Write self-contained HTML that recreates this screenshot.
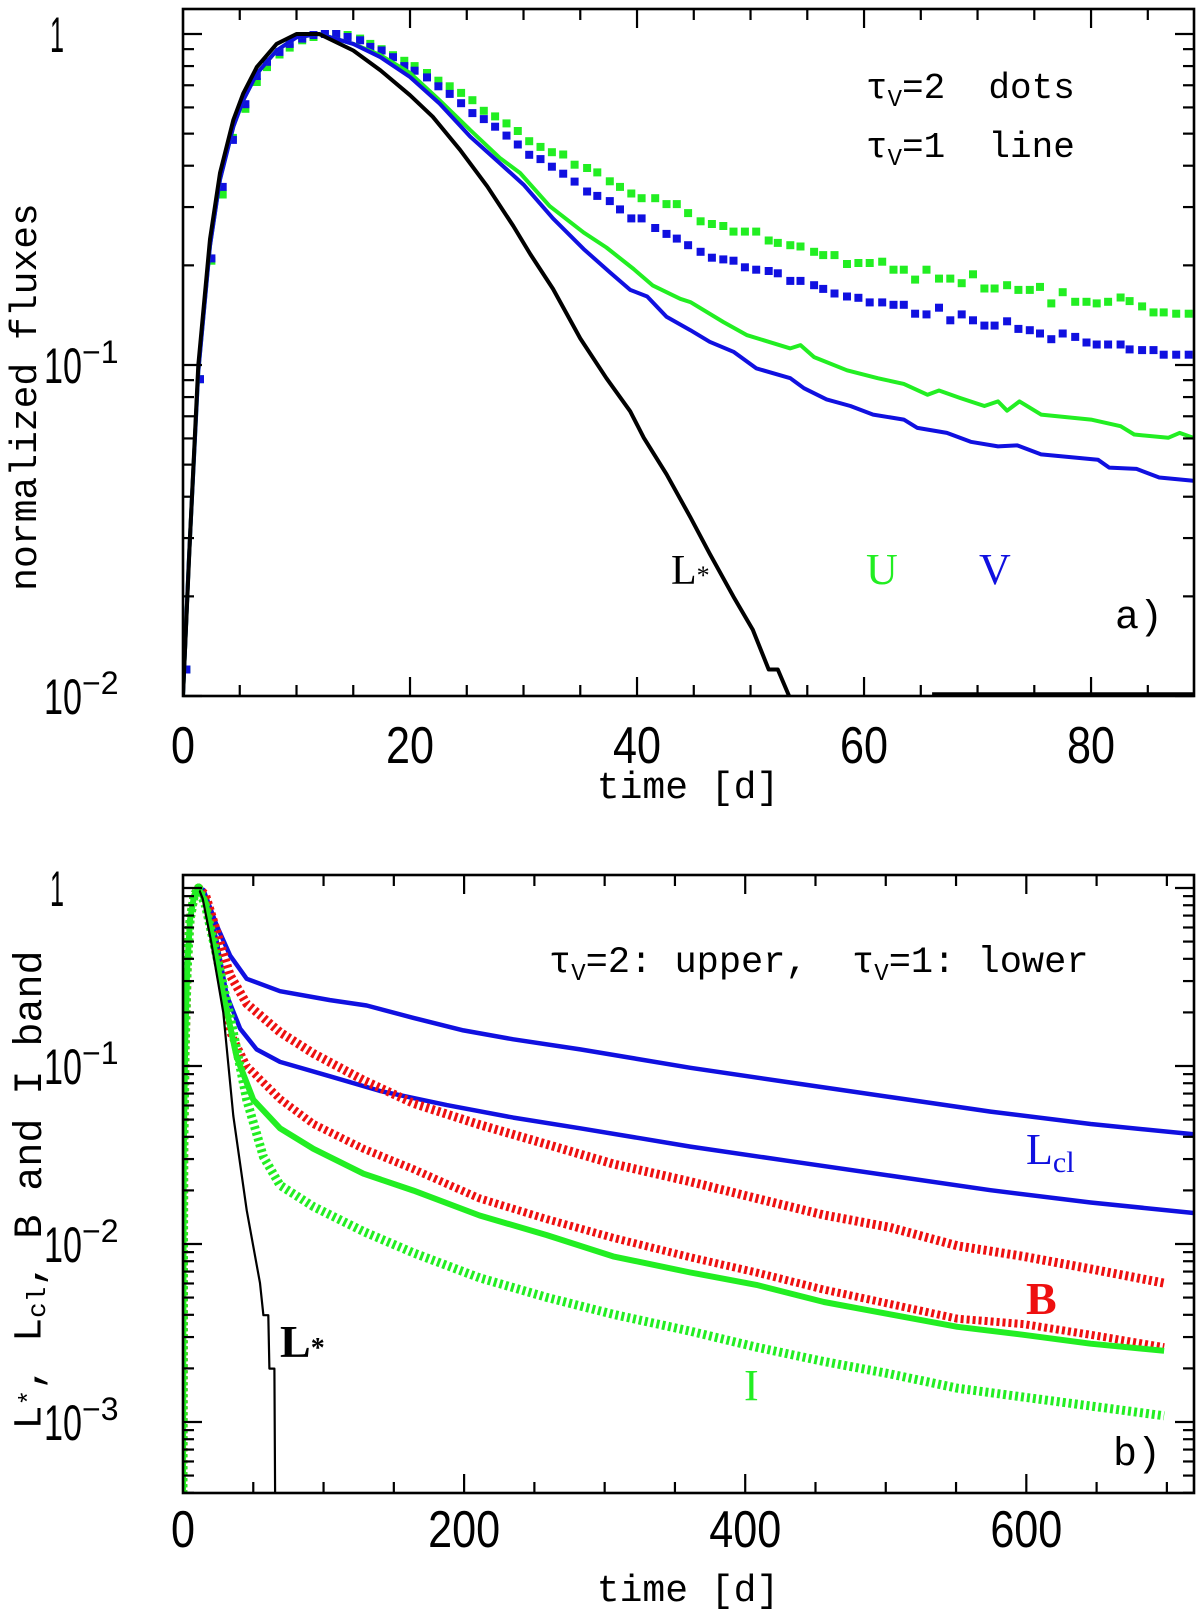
<!DOCTYPE html>
<html><head><meta charset="utf-8"><style>
html,body{margin:0;padding:0;background:#fff}
svg{display:block}
text{font-family:"Liberation Sans",sans-serif;fill:#000;white-space:pre}
.mono{font-family:"Liberation Mono",monospace}
.serif{font-family:"Liberation Serif",serif}
</style></head><body>
<svg id="fig" width="1200" height="1619" viewBox="0 0 1200 1619" xmlns="http://www.w3.org/2000/svg">
<defs>
<clipPath id="clipA"><rect x="183" y="9" width="1011" height="687"/></clipPath>
<clipPath id="clipB"><rect x="183" y="875" width="1011" height="618"/></clipPath>
</defs>
<g id="panelA"></g>
<g id="panelB"></g>

<!-- Panel a texts -->
<text class="mono" x="26" y="397" font-size="38" transform="rotate(-90 26 397)" text-anchor="middle" dominant-baseline="middle">normalized fluxes</text>
<text class="mono" x="688" y="798" font-size="38" text-anchor="middle">time [d]</text>
<text class="mono" x="866" y="98" font-size="36" xml:space="preserve">τ<tspan font-size="24" dy="8">V</tspan><tspan dy="-8">=2  dots</tspan></text>
<text class="mono" x="866" y="157" font-size="36" xml:space="preserve">τ<tspan font-size="24" dy="8">V</tspan><tspan dy="-8">=1  line</tspan></text>
<text class="serif" x="671" y="584" font-size="42">L<tspan font-size="26">*</tspan></text>
<text class="serif" x="866" y="584" font-size="44" style="fill:#22ee22">U</text>
<text class="serif" x="979" y="584" font-size="44" style="fill:#1010e0">V</text>
<text class="mono" x="1115" y="628" font-size="40">a)</text>

<!-- Panel b texts -->
<text class="mono" x="30" y="1190" font-size="40" transform="rotate(-90 30 1190)" text-anchor="middle" dominant-baseline="middle">L<tspan font-size="26">*</tspan>, L<tspan font-size="26" dy="8">cl</tspan><tspan dy="-8">, B and I band</tspan></text>
<text class="mono" x="688" y="1601" font-size="38" text-anchor="middle">time [d]</text>
<text class="mono" x="549" y="972" font-size="37" xml:space="preserve">τ<tspan font-size="24" dy="8">V</tspan><tspan dy="-8">=2: upper,  τ</tspan><tspan font-size="24" dy="8">V</tspan><tspan dy="-8">=1: lower</tspan></text>
<text class="serif" x="1026" y="1164" font-size="44" style="fill:#1010e0">L<tspan font-size="30" dy="8">cl</tspan></text>
<text class="serif" x="1026" y="1314" font-size="46" font-weight="bold" style="fill:#ee1010">B</text>
<text class="serif" x="744" y="1400" font-size="44" style="fill:#22ee22">I</text>
<text class="serif" x="280" y="1357" font-size="46" font-weight="bold">L<tspan font-size="28">*</tspan></text>
<text class="mono" x="1113" y="1465" font-size="40">b)</text>
</svg>
<script>
// ---------- Panel a data (log10 normalized flux) ----------
const lStarT = [0,0.62,1.35,2.38,3.26,4.43,5.3,6.5,8.25,10,12,15,17.4,20,22,24.4,26.8,29.1,30.6,32.6,35,37.3,39.4,40.6,42.6,44.7,46.4,48.5,50.2,51.6,52.4,53.4];
const lStarLog = [-2,-1.52,-1.0,-0.62,-0.42,-0.26,-0.18,-0.10,-0.03,0,0,-0.05,-0.11,-0.185,-0.25,-0.35,-0.46,-0.58,-0.665,-0.77,-0.92,-1.04,-1.14,-1.22,-1.33,-1.46,-1.57,-1.70,-1.80,-1.92,-1.92,-2.0];
const lStarTailT = [66,89.07];
const lStarTailLog = [-2,-2];
const vLineT = [0,0.5,1.35,2.38,3.26,4.43,5.3,6.5,8.25,10,12,15,17.4,20,22.6,25.3,27.9,30,32.6,35.3,37.6,39.4,40.9,42.6,44.7,46.4,48.5,50.5,53.5,54.7,56.7,58.8,60.8,63.5,64.7,67.3,69.4,71.8,73.5,75.6,80.6,81.6,84,86,89];
const vLineLog = [-2,-1.6,-1.02,-0.64,-0.44,-0.28,-0.2,-0.12,-0.05,-0.01,0,-0.03,-0.07,-0.13,-0.21,-0.31,-0.39,-0.455,-0.557,-0.65,-0.72,-0.773,-0.793,-0.854,-0.895,-0.93,-0.96,-1.01,-1.04,-1.07,-1.104,-1.124,-1.15,-1.165,-1.19,-1.205,-1.232,-1.246,-1.243,-1.27,-1.286,-1.31,-1.314,-1.34,-1.35];
const uLineT = [0,0.5,1.35,2.38,3.26,4.43,5.3,6.5,8.25,10,12,15,17.4,20,22.6,25.3,27.9,29.7,32.3,35.3,37.3,39.7,41.4,43.8,44.7,47.6,49.7,53.5,54.4,55.6,58.5,61.2,63.5,65.6,66.6,68.5,70.6,71.8,72.6,73.7,75.6,80,82.6,83.8,86.8,87.8,89];
const uLineLog = [-2,-1.6,-1.02,-0.64,-0.44,-0.28,-0.2,-0.12,-0.05,-0.01,0,-0.03,-0.064,-0.118,-0.2,-0.29,-0.374,-0.42,-0.52,-0.6,-0.645,-0.71,-0.76,-0.80,-0.81,-0.87,-0.91,-0.95,-0.94,-0.976,-1.016,-1.04,-1.057,-1.09,-1.077,-1.10,-1.124,-1.11,-1.138,-1.11,-1.15,-1.165,-1.185,-1.21,-1.22,-1.205,-1.22];
const dotT = [0.3,1.5,2.5,3.5,4.4,5.5,6.5,7.4,8.5,9.4,10.5,11.5,12.5,13.5,14.5,15.6,16.5,17.5,18.5,19.5,20.4,21.5,22.5,23.5,24.5,25.5,26.5,27.5,28.5,29.5,30.5,31.5,32.5,33.5,34.5,35.6,36.5,37.6,38.5,39.5,40.4,41.6,42.6,43.5,44.5,
 45.6,46.6,47.6,48.5,49.5,50.5,51.6,52.4,53.5,54.4,55.6,56.4,57.4,58.5,59.5,60.5,61.6,62.6,63.5,64.5,65.5,66.6,67.6,68.6,69.6,70.6,71.5,72.6,73.6,74.6,75.5,76.5,77.5,78.6,79.6,80.5,81.5,82.6,83.4,84.5,85.5,86.4,87.5,88.6];
const uDotLog = [-1.92,-1.043,-0.685,-0.485,-0.314,-0.226,-0.145,-0.1,-0.062,-0.041,-0.019,-0.009,0,0,-0.003,-0.014,-0.03,-0.046,-0.064,-0.081,-0.097,-0.118,-0.141,-0.158,-0.178,-0.2,-0.232,-0.249,-0.27,-0.293,-0.324,-0.341,-0.357,-0.364,-0.395,-0.405,-0.418,-0.445,-0.462,-0.482,-0.496,-0.496,-0.514,-0.514,-0.541,
 -0.566,-0.574,-0.58,-0.597,-0.597,-0.597,-0.624,-0.631,-0.638,-0.642,-0.658,-0.668,-0.668,-0.695,-0.692,-0.692,-0.688,-0.712,-0.712,-0.742,-0.712,-0.739,-0.739,-0.753,-0.726,-0.769,-0.769,-0.759,-0.773,-0.773,-0.764,-0.814,-0.78,-0.809,-0.809,-0.814,-0.809,-0.796,-0.807,-0.823,-0.841,-0.841,-0.845,-0.845];
const vDotLog = [-1.92,-1.043,-0.678,-0.462,-0.32,-0.212,-0.127,-0.084,-0.054,-0.03,-0.014,-0.003,0,0,-0.009,-0.019,-0.039,-0.05,-0.07,-0.097,-0.111,-0.131,-0.158,-0.181,-0.209,-0.239,-0.257,-0.28,-0.307,-0.334,-0.365,-0.378,-0.401,-0.422,-0.446,-0.476,-0.489,-0.505,-0.53,-0.557,-0.557,-0.586,-0.604,-0.618,-0.638,
 -0.658,-0.676,-0.681,-0.685,-0.705,-0.712,-0.716,-0.723,-0.746,-0.746,-0.759,-0.77,-0.784,-0.793,-0.797,-0.811,-0.811,-0.818,-0.818,-0.845,-0.847,-0.827,-0.865,-0.847,-0.865,-0.881,-0.881,-0.868,-0.891,-0.895,-0.905,-0.922,-0.905,-0.915,-0.932,-0.938,-0.938,-0.938,-0.953,-0.955,-0.955,-0.969,-0.969,-0.969];
const xTicksA = [0,20,40,60,80];
const yTicksA = [0,-1,-2];

// ---------- Panel b data ----------
const riseT = [0,0.5,1.5,3,5,8,11];
const riseLog = [-3.4,-1.5,-0.9,-0.45,-0.18,-0.04,0];
const bLstarT = [14,20,28.7,35.8,45.3,54.8,57.2,60.7,61.5,65,65.5];
const bLstarLog = [-0.06,-0.3,-0.70,-1.28,-1.81,-2.22,-2.40,-2.40,-2.70,-2.70,-3.4];
const lclUpT = [14.5,24,33.5,45.3,69,104.6,130.7,164,199.5,235,282.6,361,432,503,574.5,645.7,719];
const lclUpLog = [-0.01,-0.21,-0.38,-0.51,-0.58,-0.63,-0.66,-0.73,-0.80,-0.85,-0.907,-1.01,-1.093,-1.174,-1.256,-1.326,-1.384];
const lclLowT = [16,24,31,40.6,52.4,69,104.6,140,187.7,235,282.6,361,432,503,574.5,645.7,719];
const lclLowLog = [-0.05,-0.30,-0.60,-0.79,-0.907,-0.977,-1.058,-1.14,-1.22,-1.29,-1.35,-1.453,-1.535,-1.616,-1.698,-1.767,-1.826];
const bUpT = [16,21.6,33.5,45.3,69,92.8,128.4,164,211,258.8,306,361,408,456,503,551,598,645.7,698];
const bUpLog = [-0.04,-0.186,-0.49,-0.65,-0.81,-0.93,-1.08,-1.21,-1.33,-1.44,-1.55,-1.65,-1.744,-1.837,-1.907,-2.01,-2.07,-2.14,-2.22];
const bLowT = [16,26.3,33.5,45.3,69,92.8,128.4,164,211,258.8,306,361,408,456,503,551,598,645.7,698];
const bLowLog = [-0.06,-0.49,-0.81,-1.0,-1.186,-1.326,-1.465,-1.58,-1.744,-1.86,-1.965,-2.075,-2.16,-2.256,-2.337,-2.42,-2.45,-2.51,-2.58];
const iUpT = [16,28.7,38.2,50,69,92.8,128.4,164,211,258.8,306,361,408,456,503,551,598,645.7,698];
const iUpLog = [-0.08,-0.60,-0.95,-1.19,-1.35,-1.465,-1.605,-1.70,-1.84,-1.95,-2.07,-2.16,-2.23,-2.326,-2.395,-2.465,-2.51,-2.56,-2.60];
const iLowT = [16,33.5,45.3,57.2,69,92.8,128.4,164,211,258.8,306,361,408,456,503,551,598,645.7,698];
const iLowLog = [-0.1,-0.72,-1.19,-1.51,-1.67,-1.79,-1.93,-2.05,-2.19,-2.30,-2.395,-2.49,-2.58,-2.66,-2.73,-2.81,-2.86,-2.91,-2.965];
const xTicksB = [0,200,400,600];
const yTicksB = [0,-1,-2,-3];

const NS = "http://www.w3.org/2000/svg";
function mk(tag, attrs, parent){const e=document.createElementNS(NS,tag);for(const k in attrs)e.setAttribute(k,attrs[k]);parent.appendChild(e);return e;}

const A = {x0:183,x1:1194,y0:9,y1:696,tmax:89.07,yTop:0.0755,yBot:-2.0};
const B = {x0:183,x1:1194,y0:875,y1:1493,tmax:719.3,yTop:0.073,yBot:-3.399};
function sx(P,t){return P.x0+(t/P.tmax)*(P.x1-P.x0);}
function sy(P,l){return P.y0+(P.yTop-l)/(P.yTop-P.yBot)*(P.y1-P.y0);}

function line(P,g,ts,ls,color,w,name,dash){
  let d="";
  for(let i=0;i<ts.length;i++){d+=(i?"L":"M")+sx(P,ts[i]).toFixed(1)+","+sy(P,ls[i]).toFixed(1);}
  const p=mk("path",{d:d,fill:"none",stroke:color,"stroke-width":w,"stroke-linejoin":"round","stroke-linecap":"butt"},g);
  if(dash)p.setAttribute("stroke-dasharray",dash);
  
  
  return p;
}
function dots(P,g,ts,ls,color,size,name){
  const grp=mk("g",{fill:color},g);
  
  
  for(let i=0;i<ts.length;i++){
    const r=mk("rect",{x:(sx(P,ts[i])-size/2).toFixed(1),y:(sy(P,ls[i])-size/2).toFixed(1),width:size,height:size},grp);
    
    
  }
}
function axes(P,g,xMajor,xMinorStep,xMajorStep,yMajors,name){
  const ax=mk("g",{stroke:"#000","stroke-width":2.2},g);
  
  
  for(let t=xMinorStep;t<P.tmax;t+=xMinorStep){
    const x=sx(P,t); const maj=Math.abs(t/xMajorStep-Math.round(t/xMajorStep))<1e-6; const L=maj?19:11;
    mk("line",{x1:x,y1:P.y1,x2:x,y2:P.y1-L},ax); mk("line",{x1:x,y1:P.y0,x2:x,y2:P.y0+L},ax);
  }
  for(let dec=Math.ceil(P.yTop);dec>=Math.floor(P.yBot);dec--){
    for(let k=1;k<=9;k++){
      const lv = (k===1)? dec : dec-1+Math.log10(k);
      if(lv>P.yTop||lv<P.yBot)continue;
      const y=sy(P,lv); const L=(k===1)?19:11;
      mk("line",{x1:P.x0,y1:y,x2:P.x0+L,y2:y},ax); mk("line",{x1:P.x1,y1:y,x2:P.x1-L,y2:y},ax);
    }
  }
  const fr=mk("rect",{x:P.x0,y:P.y0,width:P.x1-P.x0,height:P.y1-P.y0,fill:"none",stroke:"#000","stroke-width":2.6},g);
  
  
}
function labels(P,g,xt,yt,xBase,name){
  for(const t of xt){
    const s=String(t);
    const e=mk("text",{x:sx(P,t),y:xBase,"font-size":52,"text-anchor":"middle",textLength:s.length*24,lengthAdjust:"spacingAndGlyphs"},g);
    e.textContent=s;
    
    
  }
  for(const l of yt){
    const y=sy(P,l);
    const e=mk("text",{x:44,y:y+18,"font-size":50},g);
    
    
    if(l===0){e.setAttribute("x",50);e.setAttribute("textLength",14);e.setAttribute("lengthAdjust","spacingAndGlyphs");e.textContent="1";}
    else{
      const a=document.createElementNS(NS,"tspan");a.textContent="10";a.setAttribute("textLength",38);a.setAttribute("lengthAdjust","spacingAndGlyphs");e.appendChild(a);
      const b=document.createElementNS(NS,"tspan");b.textContent="\u2212"+(-l);b.setAttribute("font-size",32);b.setAttribute("dy",-20);e.appendChild(b);
    }
  }
}

const gA=document.getElementById("panelA");
const cA=mk("g",{"clip-path":"url(#clipA)"},gA);


dots(A,cA,dotT,uDotLog,"#22ee22",8,"u-dots-tau2");
dots(A,cA,dotT,vDotLog,"#1010e0",8,"v-dots-tau2");
line(A,cA,uLineT,uLineLog,"#22ee22",4,"u-line-tau1");
line(A,cA,vLineT,vLineLog,"#1010e0",4,"v-line-tau1");
line(A,cA,lStarT,lStarLog,"#000",4,"lstar-line");
line(A,cA,lStarTailT,lStarTailLog,"#000",7.5,"lstar-tail");
axes(A,gA,xTicksA,5,20,yTicksA,"axes-a");
labels(A,gA,xTicksA,yTicksA,763,"axes-a");

const gB=document.getElementById("panelB");
const cB=mk("g",{"clip-path":"url(#clipB)"},gB);


function cat(a,b){return a.concat(b);}
line(B,cB,cat(riseT,lclUpT),cat(riseLog,lclUpLog),"#1010e0",4.5,"lcl-upper-tau2");
line(B,cB,cat(riseT,lclLowT),cat(riseLog,lclLowLog),"#1010e0",4.5,"lcl-lower-tau1");
line(B,cB,cat(riseT,bUpT),cat(riseLog,bUpLog),"#ee1010",9,"b-band-upper-tau2","3 3");
line(B,cB,cat(riseT,bLowT),cat(riseLog,bLowLog),"#ee1010",8,"b-band-lower-tau1","3 3");
line(B,cB,cat(riseT,iLowT),cat(riseLog,iLowLog),"#22ee22",9,"i-band-lower-tau1","3 3");
line(B,cB,cat(riseT,iUpT),cat(riseLog,iUpLog),"#22ee22",6,"i-band-upper-tau2");
line(B,cB,cat(riseT,bLstarT),cat(riseLog,bLstarLog),"#000",2.2,"lstar-line-b");
line(B,cB,riseT,riseLog,"#22ee22",4,"rise-overlay");
axes(B,gB,xTicksB,50,200,yTicksB,"axes-b");
labels(B,gB,xTicksB,yTicksB,1547,"axes-b");
</script>
</body></html>
